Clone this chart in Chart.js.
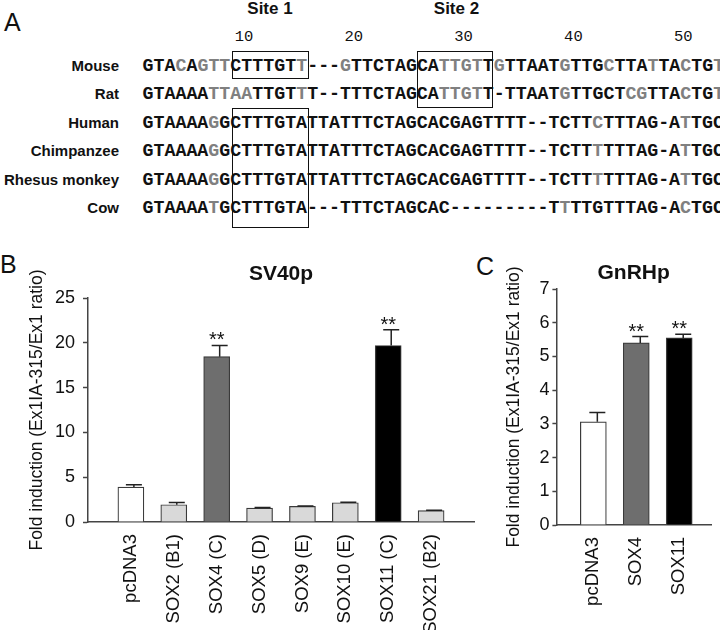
<!DOCTYPE html>
<html>
<head>
<meta charset="utf-8">
<script src="https://cdn.jsdelivr.net/npm/chart.js@4/dist/chart.umd.min.js"></script>
<style>
body { margin: 0; background: #fff; width: 720px; height: 630px; overflow: hidden; position: relative;
       font-family: 'Liberation Sans', Arial, sans-serif; color: #111; }
.abs { position: absolute; white-space: nowrap; }
.seq { font-family: 'Liberation Mono', 'Courier New', monospace; font-weight: bold; font-size: 18.3px; line-height: 20px; }
.g { color: #808080; }
.sp { font-weight: bold; font-size: 15px; line-height: 20px; text-align: right; width: 119px; left: 0; }
.num { font-family: 'Liberation Mono', 'Courier New', monospace; font-size: 15.5px; line-height: 20px; text-align: right; width: 40px; }
.site { font-weight: bold; font-size: 17px; line-height: 20px; text-align: center; width: 100px; }
.box { position: absolute; border: 1.5px solid #111; box-sizing: border-box; }
.panel { font-size: 25px; line-height: 25px; }
canvas { position: absolute; }
</style>
</head>
<body>
<div id="alignment"></div>
<div class="abs panel" style="left:4px;top:10px">A</div>
<div class="abs panel" style="left:0px;top:252px">B</div>
<div class="abs panel" style="left:476px;top:254px">C</div>
<canvas id="sv40" width="490" height="380" style="left:0;top:250px"></canvas>
<canvas id="gnrh" width="230" height="380" style="left:490px;top:250px"></canvas>
<script>
// panel A: alignment
const species = ['Mouse', 'Rat', 'Human', 'Chimpanzee', 'Rhesus monkey', 'Cow'];
const sequences = [
  'GTACAGTTCTTTGTT---GTTCTAGCATTGTTGTTAATGTTGCTTATTACTGT',
  'GTAAAATTAATTGTTT--TTTCTAGCATTGTT-TTAATGTTGCTCGTTACTGT',
  'GTAAAAGGCTTTGTATTATTTCTAGCACGAGTTTT--TCTTCTTTAG-ATTGC',
  'GTAAAAGGCTTTGTATTATTTCTAGCACGAGTTTT--TCTTTTTTAG-ATTGC',
  'GTAAAAGGCTTTGTATTATTTCTAGCACGAGTTTT--TCTTTTTTAG-ATTGC',
  'GTAAAATGCTTTGTA---TTTCTAGCAC---------TTTTGTTTAG-ACTGC'
];
// 1-based positions printed in grey
const greyPositions = [
  [4, 6, 7, 8, 15, 19, 28, 29, 30, 31, 33, 39, 43, 47, 50, 53],
  [7, 8, 9, 10, 15, 28, 29, 30, 31, 39, 45, 46, 50, 53],
  [7, 42, 50],
  [7, 42, 50],
  [7, 42, 50],
  [7, 39, 50]
];
const positionMarks = [10, 20, 30, 40, 50];
const sites = ['Site 1', 'Site 2'];

const rowY = [65, 93.5, 122, 150.5, 179, 207.5];
const seqX = 142.5, charW = 10.98;
const wrap = document.getElementById('alignment');

function add(cls, style, html) {
  const d = document.createElement('div');
  d.className = 'abs ' + cls;
  d.setAttribute('style', style);
  d.innerHTML = html;
  wrap.appendChild(d);
}

species.forEach((name, r) => {
  add('sp', `top:${rowY[r] - 9.3}px`, name);
  const html = sequences[r].split('').map((ch, i) =>
    greyPositions[r].includes(i + 1) ? `<span class="g">${ch}</span>` : ch).join('');
  add('seq', `left:${seqX}px;top:${rowY[r] - 9.5}px`, html);
});
positionMarks.forEach(n => add('num', `left:${seqX + n * charW + 1 - 40}px;top:27px`, n));
add('site', 'left:220px;top:-1px', sites[0]);
add('site', 'left:406.5px;top:-1px', sites[1]);

[[231.7, 51, 77.3, 28.3], [416.7, 51, 76.6, 57.3], [231.7, 108, 77.3, 120]].forEach(b => {
  const d = document.createElement('div');
  d.className = 'box';
  d.setAttribute('style', `left:${b[0]}px;top:${b[1]}px;width:${b[2]}px;height:${b[3]}px`);
  wrap.appendChild(d);
});

// panels B and C
const svCategories = ['pcDNA3', 'SOX2 (B1)', 'SOX4 (C)', 'SOX5 (D)', 'SOX9 (E)', 'SOX10 (E)', 'SOX11 (C)', 'SOX21 (B2)'];
const svValues = [3.9, 1.93, 18.45, 1.56, 1.74, 2.15, 19.7, 1.27];
const svErrors = [0.25, 0.25, 1.25, 0.05, 0.04, 0.06, 1.75, 0.05];
const svMarks = ['', '', '**', '', '', '', '**', ''];
const svTicks = [0, 5, 10, 15, 20, 25];

const gnCategories = ['pcDNA3', 'SOX4', 'SOX11'];
const gnValues = [3.06, 5.4, 5.55];
const gnErrors = [0.28, 0.19, 0.11];
const gnMarks = ['', '**', '**'];
const gnTicks = [0, 1, 2, 3, 4, 5, 6, 7];

const svColors = ['#ffffff', '#d9d9d9', '#6e6e6e', '#d9d9d9', '#d9d9d9', '#d9d9d9', '#000000', '#d9d9d9'];
const gnColors = ['#ffffff', '#6e6e6e', '#000000'];

const SANS = "'Liberation Sans', Arial, sans-serif";
const yTitle = 'Fold induction (Ex1IA-315/Ex1 ratio)';

function errorBars(errors, marks, shift) {
  return {
    id: 'errorBars',
    afterDatasetsDraw(chart) {
      const ctx = chart.ctx;
      const yScale = chart.scales.y;
      const ds = chart.data.datasets[0];
      ctx.save();
      ctx.strokeStyle = '#222';
      ctx.lineWidth = 1.5;
      ctx.fillStyle = '#111';
      ctx.font = '20px ' + SANS;
      ctx.textAlign = 'center';
      ctx.textBaseline = 'alphabetic';
      chart.getDatasetMeta(0).data.forEach((bar, i) => {
        const top = yScale.getPixelForValue(ds.data[i].y + errors[i]);
        const x = bar.x + shift;
        ctx.beginPath();
        ctx.moveTo(x, bar.y);
        ctx.lineTo(x, top);
        ctx.moveTo(x - 8, top);
        ctx.lineTo(x + 8, top);
        ctx.stroke();
        if (marks[i]) ctx.fillText(marks[i], bar.x, top + 1);
      });
      ctx.restore();
    }
  };
}

function makeChart(id, cfg) {
  return new Chart(document.getElementById(id), {
    type: 'bar',
    data: {
      datasets: [{
        data: cfg.values.map((v, i) => ({ x: i + 1, y: v })),
        backgroundColor: cfg.colors,
        borderColor: '#3a3a3a',
        borderWidth: 1.2,
        barThickness: 26
      }]
    },
    options: {
      responsive: false,
      animation: false,
      devicePixelRatio: 1,
      layout: { padding: { left: 0, right: cfg.padRight, top: 0, bottom: 0 } },
      plugins: {
        legend: { display: false },
        tooltip: { enabled: false },
        title: {
          display: true, text: cfg.title, fullSize: false, color: '#111',
          font: { family: SANS, size: 21, weight: 'bold' },
          padding: cfg.titlePad
        }
      },
      scales: {
        x: {
          type: 'linear', min: cfg.xMin, max: cfg.xMax, offset: false,
          grid: { display: false, drawTicks: false },
          border: { display: true, color: '#444', width: 1.5 },
          afterBuildTicks: s => { s.ticks = cfg.categories.map((c, i) => ({ value: i + 1 })); },
          afterFit: s => { s.height = cfg.xHeight; },
          ticks: {
            autoSkip: false, minRotation: 90, maxRotation: 90, padding: 12, color: '#111',
            font: { family: SANS, size: 18.5 },
            callback: v => cfg.categories[v - 1]
          }
        },
        y: {
          min: 0, max: cfg.yTicks[cfg.yTicks.length - 1],
          afterBuildTicks: s => { s.ticks = cfg.yTicks.map(v => ({ value: v })); },
          afterFit: s => { s.width = cfg.yWidth; },
          grid: { drawOnChartArea: false, drawTicks: true, tickLength: cfg.tickLen, tickColor: '#444', tickWidth: 1.5 },
          border: { color: '#444', width: 1.5 },
          ticks: { padding: cfg.tickPad, color: '#111', font: { family: SANS, size: 18 } },
          title: {
            display: true, text: yTitle, color: '#111',
            font: { family: SANS, size: 17.5 },
            padding: { top: cfg.yTitlePad, bottom: 0 }
          }
        }
      }
    },
    plugins: [errorBars(cfg.errors, cfg.marks, cfg.errShift)]
  });
}

makeChart('sv40', {
  title: 'SV40p', categories: svCategories, values: svValues, errors: svErrors, marks: svMarks,
  colors: svColors, yTicks: svTicks, xMin: 0, xMax: 9,
  padRight: 16, xHeight: 108, yWidth: 88, titlePad: { top: 12, bottom: 10.8 },
  tickLen: 5, tickPad: 8, yTitlePad: 26.5, errShift: 3
});

makeChart('gnrh', {
  title: 'GnRHp', categories: gnCategories, values: gnValues, errors: gnErrors, marks: gnMarks,
  colors: gnColors, yTicks: gnTicks, xMin: 0.14, xMax: 3.74,
  padRight: 9, xHeight: 105, yWidth: 66.4, titlePad: { top: 11, bottom: 2.8 },
  tickLen: 4, tickPad: 3, yTitlePad: 13.5, errShift: 4
});
</script>
</body>
</html>
